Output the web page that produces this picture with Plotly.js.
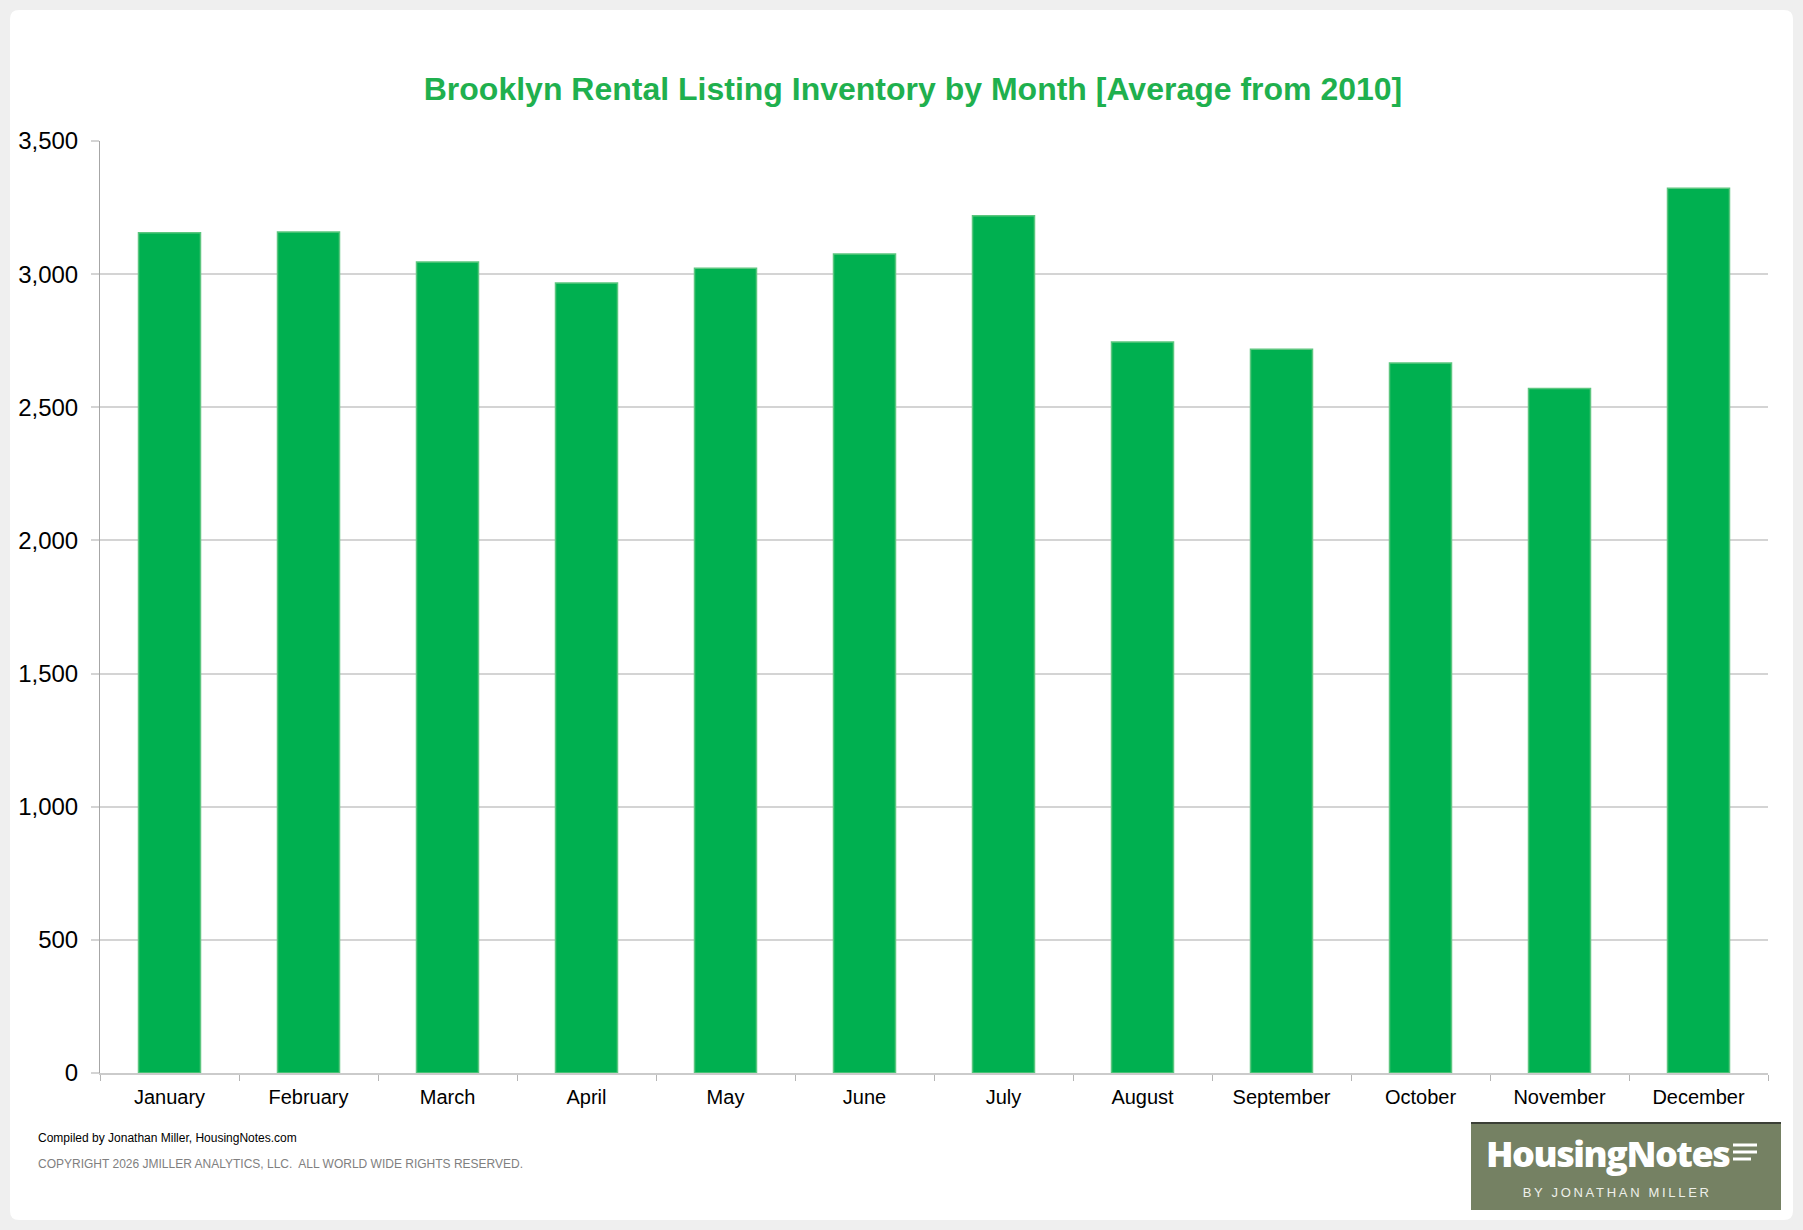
<!DOCTYPE html>
<html>
<head>
<meta charset="utf-8">
<script src="https://cdn.plot.ly/plotly-3.0.1.min.js"></script>
<style>
  html, body { margin: 0; padding: 0; background: #efefef; }
  #chart { width: 1803px; height: 1230px; }
</style>
</head>
<body>
<div id="chart"></div>
<script>
// Average Brooklyn rental listing inventory by month
var months = ['January', 'February', 'March', 'April', 'May', 'June',
              'July', 'August', 'September', 'October', 'November', 'December'];
var inventory = [3155, 3158, 3046, 2967, 3022, 3076, 3219, 2745, 2718, 2666, 2571, 3323];
var yTicks = [0, 500, 1000, 1500, 2000, 2500, 3000, 3500];

var chartTitle = 'Brooklyn Rental Listing Inventory by Month [Average from 2010]';
var creditLine = 'Compiled by Jonathan Miller, HousingNotes.com';
var copyrightLine = 'COPYRIGHT 2026 JMILLER ANALYTICS, LLC.  ALL WORLD WIDE RIGHTS RESERVED.';
var logoName = 'HousingNotes';
var logoByline = 'BY JONATHAN MILLER';

// page geometry in pixels
var W = 1803, H = 1230;
var M = { l: 100, r: 35, t: 141, b: 157 };
var pw = W - M.l - M.r, ph = H - M.t - M.b;

// pixel -> paper coordinates
function px(x) { return (x - M.l) / pw; }
function py(y) { return (H - M.b - y) / ph; }

function roundedRect(x0, y0, x1, y1, r) {
    var rx = r / pw, ry = r / ph;
    var a = px(x0), b = px(x1), top = py(y0), bot = py(y1);
    return 'M' + (a + rx) + ',' + top +
        ' L' + (b - rx) + ',' + top +
        ' Q' + b + ',' + top + ' ' + b + ',' + (top - ry) +
        ' L' + b + ',' + (bot + ry) +
        ' Q' + b + ',' + bot + ' ' + (b - rx) + ',' + bot +
        ' L' + (a + rx) + ',' + bot +
        ' Q' + a + ',' + bot + ' ' + a + ',' + (bot + ry) +
        ' L' + a + ',' + (top - ry) +
        ' Q' + a + ',' + top + ' ' + (a + rx) + ',' + top + ' Z';
}

var font = 'Liberation Sans, Arial, Helvetica, sans-serif';

var trace = {
    type: 'bar',
    x: months,
    y: inventory,
    marker: {
        color: '#00B050',
        line: { color: '#5cc67f', width: 1.5 }
    },
    hoverinfo: 'x+y'
};

var shapes = [
    // white card behind everything
    {
        type: 'path', xref: 'paper', yref: 'paper', layer: 'below',
        path: roundedRect(10, 10, 1793, 1220, 9),
        fillcolor: '#ffffff', line: { width: 0 }
    },
    // logo box
    {
        type: 'rect', xref: 'paper', yref: 'paper', layer: 'above',
        x0: px(1471), x1: px(1781), y0: py(1210), y1: py(1123),
        fillcolor: '#758163', line: { width: 0 }
    },
    {
        type: 'line', xref: 'paper', yref: 'paper', layer: 'above',
        x0: px(1471), x1: px(1781), y0: py(1123), y1: py(1123),
        line: { color: '#3b3f36', width: 2 }
    }
];

// the little "menu" lines after HousingNotes
[[1145, 1757], [1152, 1757], [1159, 1751]].forEach(function (l) {
    shapes.push({
        type: 'line', xref: 'paper', yref: 'paper', layer: 'above',
        x0: px(1733), x1: px(l[1]), y0: py(l[0]), y1: py(l[0]),
        line: { color: '#ffffff', width: 3 }
    });
});

var annotations = [
    {
        text: creditLine, xref: 'paper', yref: 'paper',
        x: px(36), y: py(1138), xanchor: 'left', yanchor: 'middle',
        showarrow: false, font: { family: font, size: 12, color: '#000000' }
    },
    {
        text: copyrightLine, xref: 'paper', yref: 'paper',
        x: px(36), y: py(1164), xanchor: 'left', yanchor: 'middle',
        showarrow: false, font: { family: font, size: 12, color: '#808080' }
    },
    {
        text: logoName, xref: 'paper', yref: 'paper',
        x: px(1607), y: py(1153), xanchor: 'center', yanchor: 'middle',
        showarrow: false,
        font: { family: 'Open Sans, sans-serif', size: 36, weight: 800, color: '#ffffff' }
    },
    {
        text: logoByline, xref: 'paper', yref: 'paper',
        x: px(1617), y: py(1192), xanchor: 'center', yanchor: 'middle',
        showarrow: false, font: { family: font, size: 13, color: '#eef0ea' }
    }
];

var layout = {
    width: W,
    height: H,
    margin: M,
    paper_bgcolor: '#efefef',
    plot_bgcolor: 'rgba(0,0,0,0)',
    showlegend: false,
    bargap: 0.554,
    title: {
        text: '<b>' + chartTitle + '</b>',
        xref: 'container', yref: 'container',
        x: 913 / W, y: 1 - 88.5 / H,
        xanchor: 'center', yanchor: 'middle',
        font: { family: font, size: 32, color: '#1fb04e' }
    },
    xaxis: {
        type: 'category',
        showline: true,
        linecolor: '#cbcbcb',
        linewidth: 2,
        ticks: 'outside',
        tickson: 'boundaries',
        ticklen: 6,
        tickwidth: 1,
        tickcolor: '#b5b5b5',
        ticklabelstandoff: 5,
        tickfont: { family: font, size: 20, color: '#000000' },
        showgrid: false,
        zeroline: false,
        fixedrange: true
    },
    yaxis: {
        range: [0, 3500],
        tickvals: yTicks,
        tickformat: ',d',
        showline: true,
        linecolor: '#a6a6a6',
        linewidth: 1,
        ticks: 'outside',
        ticklen: 8,
        tickwidth: 2,
        tickcolor: '#d4d4d4',
        ticklabelstandoff: 8,
        tickfont: { family: font, size: 24, color: '#000000' },
        showgrid: true,
        gridcolor: '#d4d4d4',
        gridwidth: 2,
        zeroline: false,
        fixedrange: true
    },
    shapes: shapes,
    annotations: annotations
};

Plotly.newPlot('chart', [trace], layout, { displayModeBar: false, staticPlot: true }).then(function (gd) {
    // spread the byline letters like the logo does, tighten the wordmark
    var texts = gd.querySelectorAll('.annotation-text');
    texts.forEach(function (t) {
        if (t.textContent === logoByline) t.style.letterSpacing = '2.7px';
        if (t.textContent === logoName) t.style.letterSpacing = '-1.5px';
    });
});
</script>
</body>
</html>
